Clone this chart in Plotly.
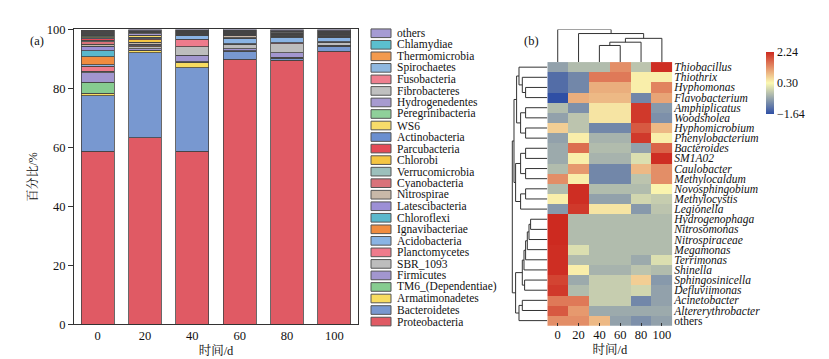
import plotly.graph_objects as go

# ---------------- data: panel (a) stacked bars ----------------
samples = ["0", "20", "40", "60", "80", "100"]
phyla = ["Proteobacteria", "Bacteroidetes", "Armatimonadetes", "TM6_(Dependentiae)", "Firmicutes",
         "SBR_1093", "Planctomycetes", "Acidobacteria", "Ignavibacteriae", "Chloroflexi",
         "Latescibacteria", "Nitrospirae", "Cyanobacteria", "Verrucomicrobia", "Chlorobi",
         "Parcubacteria", "Actinobacteria", "WS6", "Peregrinibacteria", "Hydrogenedentes",
         "Fibrobacteres", "Fusobacteria", "Spirochaetes", "Thermomicrobia", "Chlamydiae", "others"]
phylum_colors = ["#e05a64", "#7898d0", "#f8dc60", "#86cc90", "#a296cf",
                 "#bdbdbd", "#ee7b8c", "#8ab4e4", "#f08c40", "#5ab8cc",
                 "#9c8fd6", "#c8b8a8", "#d9727a", "#9cc0bc", "#f5c542",
                 "#e34a57", "#6b8fd0", "#f7dc6a", "#8fd09a", "#a79bd0",
                 "#c0c0c0", "#ef7f8f", "#8fb8e0", "#f39a4e", "#5bbfcf", "#a59bd3"]
abund_0d = [58.7, 18.8, 0.8, 3.8, 3.2, 0.5, 1.7, 0.5, 2.8, 1.9, 1.6, 0.6, 0.9, 0.4, 0.2, 0.4,
            0.4, 0.3, 0.3, 0.3, 0.3, 0.3, 0.3, 0.3, 0.2, 0.2]
abund_20d = [63.3, 28.8, 0.8, 0.0, 0.6, 0.6, 0.0, 0.0, 0.4, 0.0, 0.5, 0.7, 0.0, 0.0, 0.8, 0.4,
             0.4, 0.8, 0.0, 0.5, 0.5, 0.0, 0.2, 0.0, 0.3, 0.5]
abund_40d = [58.7, 28.3, 1.9, 0.2, 2.2, 2.9, 2.5, 1.2, 0.1, 0.1, 0.1, 0.2, 0.1, 0.1, 0.1, 0.1,
             0.2, 0.1, 0.1, 0.1, 0.1, 0.1, 0.1, 0.1, 0.1, 0.2]
abund_60d = [89.9, 2.7, 0.1, 0.1, 0.6, 1.6, 0.2, 1.6, 0.1, 0.1, 0.2, 0.8, 0.1, 0.2, 0.1, 0.1,
             0.2, 0.1, 0.1, 0.1, 0.3, 0.1, 0.1, 0.1, 0.1, 0.3]
abund_80d = [89.5, 0.8, 0.1, 0.1, 1.6, 3.0, 0.3, 2.0, 0.1, 0.1, 0.1, 0.4, 0.1, 0.1, 0.1, 0.1,
             0.1, 0.1, 0.1, 0.1, 0.3, 0.1, 0.1, 0.1, 0.1, 0.4]
abund_100d = [92.6, 1.6, 0.1, 0.1, 0.3, 1.0, 0.2, 1.4, 0.1, 0.1, 0.1, 0.5, 0.1, 0.1, 0.1, 0.1,
              0.1, 0.1, 0.1, 0.1, 0.2, 0.1, 0.1, 0.1, 0.1, 0.5]
y_ticks = [0, 20, 40, 60, 80, 100]

# ---------------- data: panel (b) heatmap ----------------
genera = ["Thiobacillus", "Thiothrix", "Hyphomonas", "Flavobacterium", "Amphiplicatus",
          "Woodsholea", "Hyphomicrobium", "Phenylobacterium", "Bacteroides", "SM1A02",
          "Caulobacter", "Methylocaldum", "Novosphingobium", "Methylocystis", "Legionella",
          "Hydrogenophaga", "Nitrosomonas", "Nitrospiraceae", "Megamonas", "Terrimonas",
          "Shinella", "Sphingosinicella", "Defluviimonas", "Acinetobacter",
          "Altererythrobacter", "others"]
z_0d = [-0.7, -1.3, -1.3, -1.64, -0.4, -0.7, 0.7, -0.7, -0.6, -0.6, -0.4, 1.3, -0.4, 0.4,
        -0.8, 2.24, 2.24, 2.24, 2.2, 2.2, 2.2, 2.0, 2.1, 1.5, 1.8, 1.3]
z_20d = [-0.4, -1.0, -1.0, 1.0, -0.9, -0.3, -0.3, 0.4, 1.6, 0.4, 1.2, 0.4, 2.2, 2.2, 2.1,
         -0.4, -0.4, -0.4, 0.0, -0.4, 0.4, -0.6, -0.4, 1.5, 1.2, 1.3]
z_40d = [-0.4, 1.5, 1.0, 0.9, 0.5, 0.5, -1.0, -0.5, -0.4, -0.5, -1.0, -1.0, -0.4, -0.7, 0.5,
         -0.4, -0.4, -0.4, -0.4, -0.4, -0.5, -0.2, -0.2, -0.2, -0.6, 0.9]
z_60d = [1.3, 1.5, 1.0, 0.9, 0.5, 0.5, -1.0, -0.5, -0.4, -0.5, -1.0, -1.0, -0.4, -0.7, 0.5,
         -0.4, -0.4, -0.4, -0.4, -0.4, -0.5, -0.2, -0.2, -0.2, -0.6, -0.7]
z_80d = [-0.3, 0.4, 0.4, -1.0, 2.1, 2.1, 1.8, 2.1, -0.7, 0.0, 0.9, -0.3, -0.4, -0.1, -0.8,
         -0.4, -0.4, -0.4, -0.4, -0.6, -0.3, 0.7, -0.1, -1.0, -0.6, -0.9]
z_100d = [2.2, 0.4, 1.4, 1.1, -0.8, -0.9, 0.9, 0.4, 1.7, 2.2, 1.3, 1.3, 0.35, -0.2, -0.3,
          -0.4, -0.4, -0.4, -0.4, 0.0, -0.4, -0.8, -0.7, -0.7, -0.6, -0.7]
z_min, z_mid, z_max = -1.64, 0.30, 2.24

# hierarchical clustering trees: leaf = index, node = [left, right, merge height]
col_tree = [0, [1, [[[2, 3, 17.3], 4, 20.7], 5, 24.7], 29.7], 34.0]
row_top_a = [0, [1, [2, 3, 21.7], 25.0], 28.3]
row_top_b = [[4, 5, 21.7], [6, 7, 21.7], 26.7]
row_mid_a = [[8, 9, 21.7], [10, 11, 21.7], 26.7]
row_mid_b = [[12, 13, 21.7], 14, 26.7]
row_low_a = [[[[[[15, 16, 16.7], 17, 18.3], 18, 20.0], 19, 21.7], 20, 23.3], [21, 22, 22.7], 25.0]
row_low_b = [[23, 24, 25.0], 25, 28.3]
row_tree = [[[row_top_a, row_top_b, 30.7], [row_mid_a, row_mid_b, 31.7], 33.3],
            [row_low_a, row_low_b, 31.7], 35.0]

# ---------------- geometry helpers ----------------
W, H = 829, 359


def px_x(v):
    return v / W


def px_y(v):
    return 1 - v / H


SERIF = "Liberation Serif, Times New Roman, Noto Serif CJK SC, Noto Sans CJK SC, serif"


def dendro(node, segs):
    if isinstance(node, int):
        return float(node), 0.0
    left, right, h = node
    pl, hl = dendro(left, segs)
    pr, hr = dendro(right, segs)
    segs.append([(pl, hl), (pl, h), (pr, h), (pr, hr)])
    return (pl + pr) / 2, h


fig = go.Figure()

# ---------------- panel (a) ----------------
per_sample = [abund_0d, abund_20d, abund_40d, abund_60d, abund_80d, abund_100d]
for i, name in enumerate(phyla):
    fig.add_trace(go.Bar(
        x=samples, y=[s[i] for s in per_sample], name=name,
        marker=dict(color=phylum_colors[i], line=dict(color="#444444", width=0.8)),
        showlegend=False, xaxis="x", yaxis="y"))

# manual legend (top = last trace)
leg_top, leg_step = 19, 12.0
legend_anns = []
for k, i in enumerate(reversed(range(len(phyla)))):
    yc = leg_top + k * leg_step
    fig.add_shape(type="rect", xref="paper", yref="paper",
                  x0=px_x(363), x1=px_x(383), y0=px_y(yc + 4.5), y1=px_y(yc - 4.5),
                  fillcolor=phylum_colors[i], line=dict(color="#555555", width=1))
    legend_anns.append(dict(x=px_x(387), y=px_y(yc), xref="paper", yref="paper",
                            text=phyla[i], showarrow=False, xanchor="left", yanchor="middle",
                            font=dict(family=SERIF, size=11.5, color="#111")))

# ---------------- panel (b) heatmap ----------------
cols = [z_0d, z_20d, z_40d, z_60d, z_80d, z_100d]
z = [[c[r] for c in cols] for r in range(len(genera))]
tick_genera = [g if g == "others" else "<i>" + g + "</i>" for g in genera]
fig.add_trace(go.Heatmap(
    z=z, x=list(range(len(samples))), y=list(range(len(genera))),
    zmin=z_min, zmax=z_max,
    colorscale=[[0.0, "#2f4fa5"], [0.5, "#fbf9b2"], [1.0, "#cd2a20"]],
    xaxis="x2", yaxis="y2", showscale=True,
    colorbar=dict(x=px_x(758), xanchor="left", y=px_y(38), yanchor="top",
                  len=62, lenmode="pixels", thickness=8, outlinewidth=0,
                  xpad=0, ypad=0,
                  tickvals=[z_min, z_mid, z_max],
                  ticktext=["\u22121.64", "0.30", "2.24"],
                  ticks="", tickfont=dict(family=SERIF, size=12, color="#111")),
    hoverinfo="skip"))

# column dendrogram
segs = []
dendro(col_tree, segs)
xs, ys = [], []
for s in segs:
    for p in s:
        xs.append(p[0]); ys.append(p[1])
    xs.append(None); ys.append(None)
fig.add_trace(go.Scatter(x=xs, y=ys, mode="lines", line=dict(color="#333", width=1),
                         xaxis="x3", yaxis="y3", showlegend=False, hoverinfo="skip"))

# row dendrogram
segs = []
dendro(row_tree, segs)
xs, ys = [], []
for s in segs:
    for p in s:
        xs.append(p[1]); ys.append(p[0])
    xs.append(None); ys.append(None)
fig.add_trace(go.Scatter(x=xs, y=ys, mode="lines", line=dict(color="#333", width=1),
                         xaxis="x4", yaxis="y4", showlegend=False, hoverinfo="skip"))

# ---------------- layout ----------------
hm_l, hm_r, hm_t, hm_b = 539.3, 664.3, 49.0, 323.3
axis_font = dict(family=SERIF, size=12.5, color="#111")

fig.update_layout(
    width=W, height=H, margin=dict(l=0, r=0, t=0, b=0),
    paper_bgcolor="white", plot_bgcolor="white",
    barmode="stack", bargap=0.305, showlegend=False,
    font=dict(family=SERIF, color="#111"),
    xaxis=dict(domain=[px_x(66), px_x(350)], type="category", range=[-0.5, 5.5],
               showline=True, linecolor="#333", linewidth=1, mirror=True, ticks="",
               tickfont=axis_font, showgrid=False, zeroline=False,
               title=dict(text="时间/d", font=dict(family=SERIF, size=12.5), standoff=2),
               anchor="y"),
    yaxis=dict(domain=[px_y(322), px_y(15)], range=[0, 100], tickvals=y_ticks,
               showline=True, linecolor="#333", linewidth=1, mirror=True,
               ticks="outside", ticklen=5, tickcolor="#333",
               tickfont=axis_font, showgrid=False, zeroline=False,
               title=dict(text="百分比/%", font=dict(family=SERIF, size=12), standoff=6),
               anchor="x"),
    xaxis2=dict(domain=[px_x(hm_l), px_x(hm_r)], range=[-0.5, 5.5],
                tickvals=list(range(len(samples))), ticktext=samples,
                ticks="inside", ticklen=3, tickcolor="#333", showline=False,
                showgrid=False, zeroline=False, tickfont=dict(family=SERIF, size=12.5, color="#111"),
                title=dict(text="时间/d", font=dict(family=SERIF, size=12.5), standoff=2),
                anchor="y2"),
    yaxis2=dict(domain=[px_y(hm_b), px_y(hm_t)], range=[len(genera) - 0.5, -0.5],
                tickvals=list(range(len(genera))), ticktext=tick_genera, side="right",
                ticks="", showgrid=False, zeroline=False, showline=False,
                tickfont=dict(family=SERIF, size=11.5, color="#111"),
                ticklabelstandoff=1, anchor="x2"),
    xaxis3=dict(domain=[px_x(hm_l), px_x(hm_r)], range=[-0.5, 5.5], visible=False, anchor="y3"),
    yaxis3=dict(domain=[px_y(hm_t), px_y(15)], range=[0, 34.0], visible=False, anchor="x3"),
    xaxis4=dict(domain=[px_x(hm_l - 42), px_x(hm_l)], range=[42, 0], visible=False, anchor="y4"),
    yaxis4=dict(domain=[px_y(hm_b), px_y(hm_t)], range=[len(genera) - 0.5, -0.5],
                visible=False, anchor="x4"),
    annotations=legend_anns + [
        dict(x=px_x(20), y=px_y(18), xref="paper", yref="paper", text="(a)", showarrow=False,
             font=dict(family=SERIF, size=12.5, color="#111")),
        dict(x=px_x(523), y=px_y(18), xref="paper", yref="paper", text="(b)", showarrow=False,
             font=dict(family=SERIF, size=12.5, color="#111")),
    ],
)

fig.write_html("out.html")
